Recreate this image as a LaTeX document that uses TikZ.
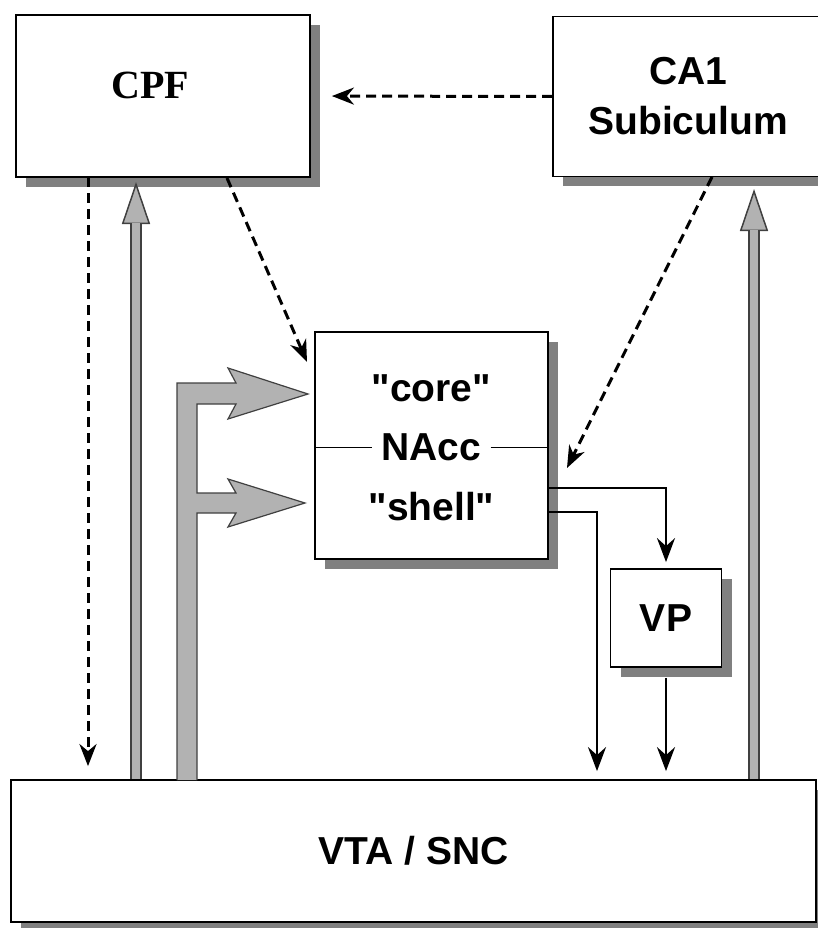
\documentclass[tikz,border=0pt]{standalone}
\usepackage{fontspec}
\setmainfont{Liberation Sans}
\newfontfamily\serifbf{Liberation Serif}
\usetikzlibrary{positioning,arrows.meta,shadows}

\begin{document}
\begin{tikzpicture}[x=1pt, y=-1pt, font=\fontsize{39}{50}\selectfont\bfseries,
  box/.style={draw, line width=1.8pt, fill=white, inner sep=0pt, align=center,
    drop shadow={shadow xshift=10pt, shadow yshift=-10pt, fill=black!50, opacity=1}},
  lbl/.style={inner sep=0pt},
  dsh/.style={line width=3pt, dash pattern=on 10pt off 6pt,
    -{Stealth[length=22pt, width=17pt, inset=7pt]}},
  blk/.style={line width=2.4pt, -{Stealth[length=24pt, width=18pt, inset=8pt]}},
  graytip/.style={line width=1.5pt, draw=black!75,
    -{Triangle[length=42pt, width=28pt, fill=black!30]}},
  grayshaft/.style={line width=1.6pt, draw=black!75, double=black!30,
    double distance=8pt, shorten >=41pt},
  bigarrow/.style={line width=1.2pt, draw=black!75, fill=black!30, line join=miter}]
\useasboundingbox (0,0) rectangle (818,928);
% boxes
\node[box, minimum width=294pt, minimum height=162pt] (cpf) at (163,96) {};
\node[lbl, font=\fontsize{40}{50}\selectfont\serifbf\bfseries] (cpflbl) at (150,85) {CPF};
\node[box, minimum width=270pt, minimum height=160pt] (ca1) at (688,96.5) {CA1\\Subiculum};
\node[box, minimum width=233pt, minimum height=227pt] (nacc) at (431.5,445.5) {};
\node[lbl] (corelbl) at (431.5,388) {\textquotedbl core\textquotedbl};
\node[lbl, inner xsep=9pt] (nacclbl) at (431.5,447.5) {NAcc};
\node[lbl] (shelllbl) at (431.5,507) {\textquotedbl shell\textquotedbl};
\draw[line width=1.5pt] (nacc.west |- nacclbl) -- (nacclbl.west);
\draw[line width=1.5pt] (nacclbl.east) -- (nacc.east |- nacclbl);
\node[box, minimum width=111pt, minimum height=98pt] (vp) at (666,618) {VP};
\node[box, minimum width=805pt, minimum height=142pt] (vta) at (413.5,851) {VTA / SNC};
% ends of connectors
\coordinate (cpfdown) at (88,177);
\coordinate (cpfin) at (136,182);
\coordinate (cpfout) at (227,178);
\coordinate (naccin) at (307,362);
\coordinate (ca1out) at (712,177);
\coordinate (naccright) at (567,468);
\coordinate (ca1in) at (754,189);
\coordinate (corefeed) at (548,488);
\coordinate (shelldrop) at (597,512);
\coordinate (coretip) at (308,394);
\coordinate (shelltip) at (305,503);
% dashed paths
\draw[dsh, shorten >=21pt] (ca1.west) -- (cpf.east);
\draw[dsh, shorten >=13pt] (cpfdown) -- (cpfdown |- vta.north);
\draw[dsh] (cpfout) -- (naccin);
\draw[dsh] (ca1out) -- (naccright);
% gray paths up from VTA / SNC
\draw[graytip] (cpfin |- vta.north) -- (cpfin);
\draw[grayshaft] (cpfin |- vta.north) -- (cpfin);
\draw[graytip] (ca1in |- vta.north) -- (ca1in);
\draw[grayshaft] (ca1in |- vta.north) -- (ca1in);
\draw[bigarrow] (177,780) -- (177,383) -- (236,383) -- (228,368) -- (coretip)
  -- (228,419) -- (236,404) -- (197,404) -- (197,493) -- (236,493) -- (228,479)
  -- (shelltip) -- (228,527) -- (236,513) -- (197,513) -- (197,780);
% output of NAcc
\draw[blk, shorten >=6pt] (corefeed) -| (vp.north);
\draw[blk, shorten >=8pt] (nacc.east |- shelldrop) -- (shelldrop) -- (shelldrop |- vta.north);
\draw[blk, shorten >=8pt] ([yshift=-10pt]vp.south) -- (vta.north -| vp.south);
\end{tikzpicture}
\end{document}
